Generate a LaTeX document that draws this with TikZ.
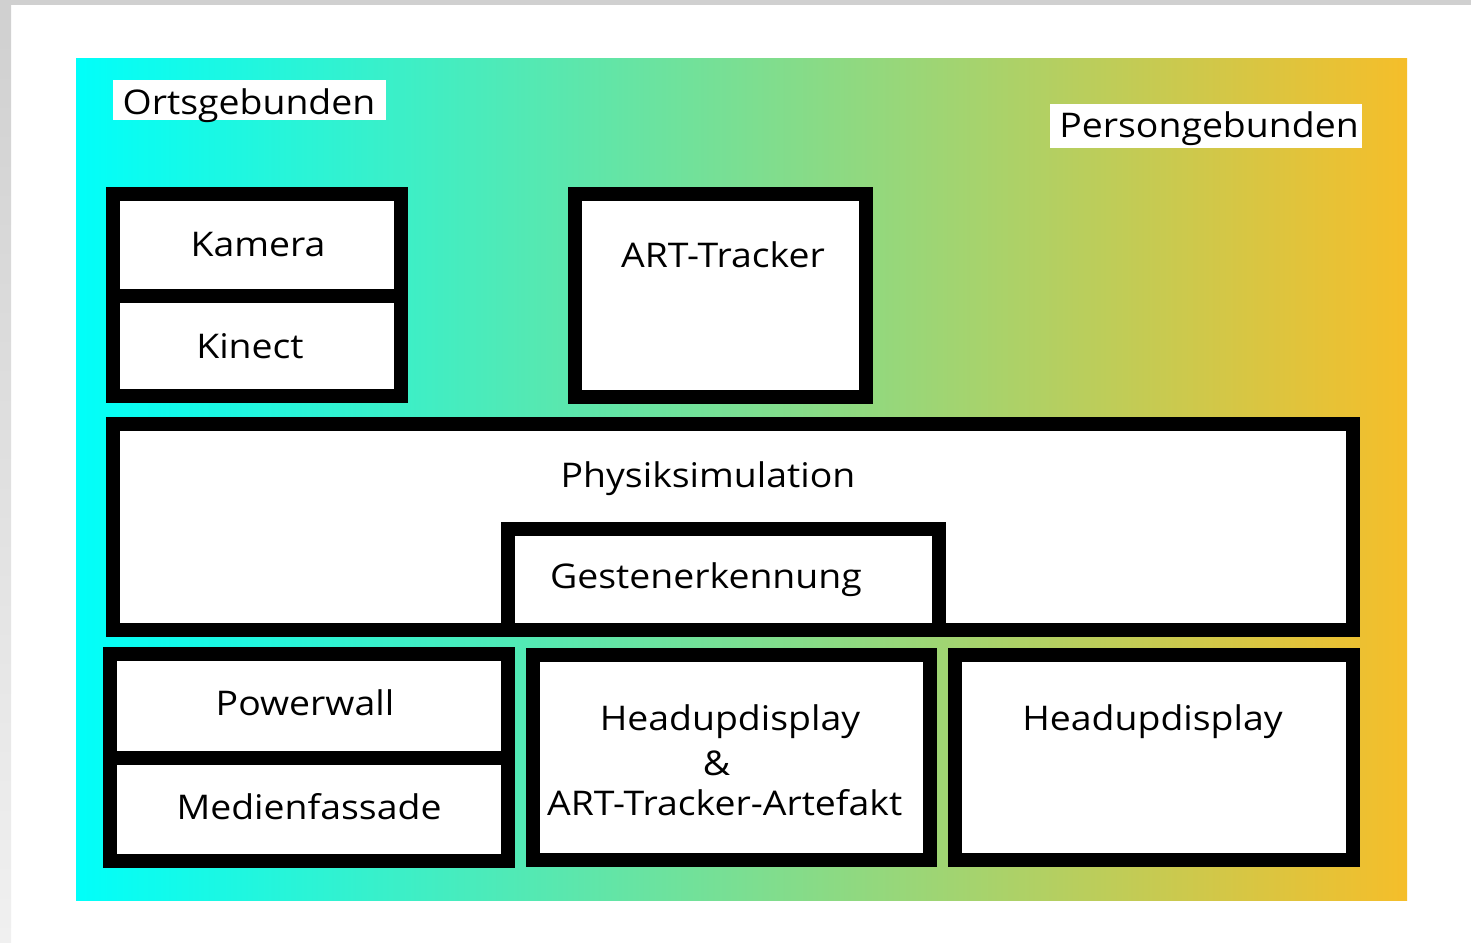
\documentclass[tikz,border=0pt]{standalone}
\usepackage{fontspec}
\setmainfont{Open Sans}[FakeStretch=1.1]
\definecolor{leftC}{RGB}{0,255,250}
\definecolor{rightC}{RGB}{245,190,42}
\definecolor{frameTop}{RGB}{208,208,208}
\definecolor{frameBot}{RGB}{240,240,240}
\begin{document}
\begin{tikzpicture}[x=1pt,y=-1pt,
  box/.style={draw=black, line width=14pt, fill=white, inner sep=0pt, outer sep=0pt},
  txt/.style={anchor=base, inner sep=0pt, text=black, font=\fontsize{34}{40}\selectfont},
  lblbg/.style={fill=white, draw=none, inner sep=0pt}]
\useasboundingbox (0,0) rectangle (1471,942);
\fill[white] (0,0) rectangle (1471,942);
\fill[frameTop] (0,0) rectangle (1471,5);
\shade[top color=frameTop, bottom color=frameBot] (0,5) rectangle (11,942);
\node[inner sep=0pt, minimum width=1331, minimum height=841, left color=leftC, right color=rightC] (bg) at (741.5,479.5) {};
% labels
\node[lblbg, minimum width=273, minimum height=40] (ortsbg) at (249.5,100) {};
\node[txt] (orts) at (249,114) {Ortsgebunden};
\node[lblbg, minimum width=312, minimum height=44] (persbg) at (1206,126) {};
\node[txt] (pers) at (1209,137) {Persongebunden};
% boxes
\node[box, minimum width=288, minimum height=101.5] (kamera) at (257,244.75) {};
\node[box, minimum width=288, minimum height=100.5] (kinect) at (257,345.75) {};
\node[box, minimum width=291.6, minimum height=203.6] (art) at (720.5,295.5) {};
\node[box, minimum width=1240, minimum height=206] (phys) at (733,527) {};
\node[box, minimum width=431, minimum height=101] (gest) at (723.5,579.5) {};
\node[box, minimum width=398, minimum height=103.5] (power) at (309,705.75) {};
\node[box, minimum width=398, minimum height=103.5] (medien) at (309,809.25) {};
\node[box, minimum width=397, minimum height=205] (hudart) at (731.5,757.5) {};
\node[box, minimum width=398, minimum height=205] (hud) at (1154,757.5) {};
% texts
\node[txt] (tkamera) at (258,256.7) {Kamera};
\node[txt] (tkinect) at (250,358.3) {Kinect};
\node[txt] (tart) at (723,267.3) {ART-Tracker};
\node[txt] (tphys) at (708,487) {Physiksimulation};
\node[txt] (tgest) at (706,588.3) {Gestenerkennung};
\node[txt] (tpower) at (305,715) {Powerwall};
\node[txt] (tmedien) at (309,819) {Medienfassade};
\node[txt] (thud1) at (730,730) {Headupdisplay};
\node[txt] (tamp) at (716.5,775.7) {\&};
\node[txt] (tartart) at (724.7,815) {ART-Tracker-Artefakt};
\node[txt] (thud2) at (1152.5,730) {Headupdisplay};
\end{tikzpicture}
\end{document}
